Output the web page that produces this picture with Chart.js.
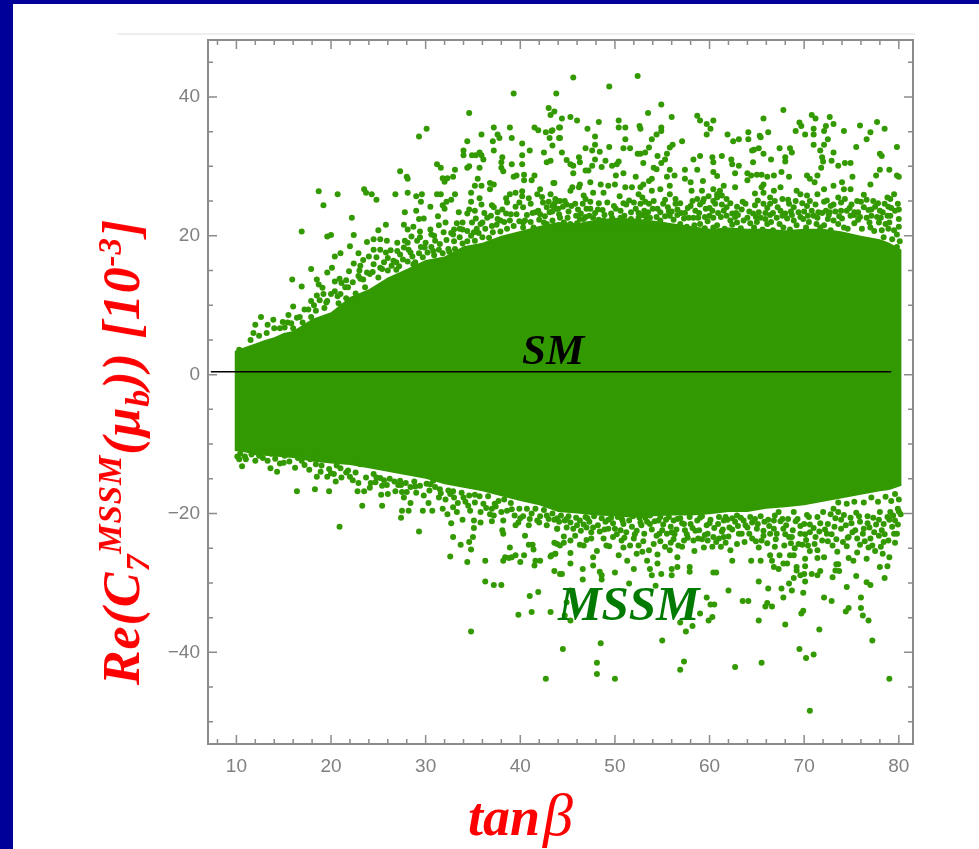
<!DOCTYPE html>
<html>
<head>
<meta charset="utf-8">
<title>Re(C7) vs tan beta</title>
<script src="https://cdn.jsdelivr.net/npm/chart.js@4/dist/chart.umd.js"></script>
<style>
  html, body { margin: 0; height: 100%; overflow: hidden; background: #000099; }
  #page { position: absolute; left: 13px; top: 4px; right: 0; bottom: 0; background: #fff; }
  #rule { position: absolute; left: 117px; top: 33px; width: 798px; height: 2px; background: #eeeeee; }
  canvas { position: absolute; left: 0; top: 0; filter: blur(0.5px); }
  .label { position: absolute; font-family: "Liberation Serif", serif; font-weight: bold; font-style: italic; white-space: nowrap; line-height: 1; }
  #xTitle { left: 468px; top: 785px; font-size: 54px; color: #ff0000; }
  #xTitle span { font-size: 60px; margin-left: 3px; font-weight: normal; }
  #yTitle { left: 122px; top: 452px; font-size: 52px; letter-spacing: 0.9px; color: #ff0000; transform: translate(-50%, -50%) rotate(-90deg); }
  #yTitle .up { position: relative; top: -18px; font-size: 33px; }
  #yTitle .down { position: relative; top: 10px; font-size: 34px; }
  #smLabel { left: 522px; top: 328px; font-size: 43px; color: #000; }
  #mssmLabel { left: 558px; top: 579px; font-size: 49px; color: #007a00; }
</style>
</head>
<body>
<div id="page"></div>
<div id="rule"></div>
<canvas id="myChart" width="979" height="849"></canvas>
<div class="label" id="xTitle">tan<span>β</span></div>
<div class="label" id="yTitle">Re(C<span class="down">7</span><span class="up">MSSM</span>(μ<span class="down">b</span>)) [10<span class="up">-3</span>]</div>
<div class="label" id="smLabel">SM</div>
<div class="label" id="mssmLabel">MSSM</div>
<script>
const xTicks = [10, 20, 30, 40, 50, 60, 70, 80];
const yTicks = [-40, -20, 0, 20, 40];
const xMinor = [8, 12, 14, 16, 18, 22, 24, 26, 28, 32, 34, 36, 38, 42, 44, 46, 48, 52, 54, 56, 58, 62, 64, 66, 68, 72, 74, 76, 78];
const yMinor = [-50, -45, -35, -30, -25, -15, -10, -5, 5, 10, 15, 25, 30, 35, 45];

// SM reference line
const smX = [7.3, 79.2];
const smY = [0.4, 0.4];

// the solid part of the cloud, read as an outline
const bandX = [9.8, 11, 12, 13, 14, 15, 16, 18, 20, 22, 24, 26, 28, 30, 32, 34, 36, 38, 40, 42, 44, 46, 48, 50, 52, 54, 56, 58, 60, 62, 64, 66, 68, 70, 72, 74, 76, 78, 79, 80.3];
const bandTop = [3.4, 4, 4.5, 5, 5.4, 6, 6.3, 8, 9, 11.2, 12.3, 14, 15.2, 16.5, 17, 18.5, 19, 20, 20.7, 21.4, 22, 21.8, 22.3, 22.6, 22.5, 22.2, 21.8, 21.4, 21, 21.2, 21, 21, 20.8, 21, 21, 20.6, 20, 19.5, 19, 18];
const bandBottom = [-11, -11.2, -11.6, -11.7, -11.8, -11.9, -12, -12.5, -12.8, -13, -13.5, -14, -14.5, -15, -15.8, -16.3, -16.8, -17.5, -18.2, -18.8, -19.8, -20, -20.3, -20.4, -20.6, -20.4, -20.3, -20.3, -20.1, -19.8, -19.8, -19.3, -19.1, -18.8, -18.3, -17.8, -17.3, -16.8, -16.6, -16];

// single points outside the solid part, [tanb, C7]
const upperLeft = [[39.3,40.5],[43.8,40.5],[34.6,37.7],[43.0,38.4],[43.6,37.9],[43.2,37.4],[29.3,34.3],[30.1,35.4],[37.2,35.6],[38.9,35.6],[41.5,35.6],[41.9,35.2],[42.7,34.9],[43.4,35.2],[44.1,35.6],[35.9,34.6],[37.6,34.6],[37.8,34.1],[39.1,34.1],[43.1,34.1],[44.1,34.1],[34.4,33.6],[37.1,33.6],[40.2,33.3],[43.4,33.0],[34.0,32.3],[34.0,31.6],[34.9,31.6],[35.3,31.6],[35.7,32.0],[35.9,31.6],[36.1,31.0],[37.2,32.3],[40.2,31.6],[41.0,32.3],[42.5,32.0],[38.1,31.3],[38.0,30.6],[38.0,29.8],[38.2,29.3],[39.1,30.3],[40.2,30.3],[42.8,30.6],[43.2,30.8],[31.2,30.3],[31.6,29.8],[33.1,29.5],[34.4,29.8],[34.6,30.0],[35.7,29.8],[27.3,29.3],[28.0,28.5],[28.1,28.2],[35.5,28.2],[39.3,28.5],[39.6,28.7],[40.4,28.8],[41.5,28.7],[40.4,28.0],[41.2,28.0],[31.8,28.3],[32.0,27.8],[32.3,28.3],[32.9,28.5],[43.6,27.6],[18.7,26.4],[20.7,26.0],[23.5,26.7],[23.7,26.2],[24.3,26.0],[24.8,25.2],[26.8,26.0],[28.1,26.2],[29.0,25.7],[29.6,26.0],[29.5,24.9],[31.2,26.0],[31.6,26.0],[33.1,26.0],[32.7,25.2],[32.2,24.9],[31.8,24.4],[32.0,23.9],[30.5,24.2],[35.2,27.2],[35.9,27.2],[36.8,27.6],[37.2,27.4],[36.8,26.7],[34.8,26.2],[35.7,25.4],[34.8,24.9],[35.9,24.5],[37.0,24.4],[38.5,25.4],[38.9,26.0],[39.5,26.2],[40.2,26.4],[40.2,25.7],[41.8,26.0],[42.1,26.7],[43.2,26.0],[19.2,24.4],[22.2,22.6],[27.8,23.4],[29.0,23.6],[33.5,23.4],[34.4,23.2],[34.6,23.8],[35.2,23.6],[16.9,20.6],[19.6,19.9],[20.0,20.1],[22.4,20.1],[25.0,20.8],[25.8,21.6],[27.7,21.6],[28.1,20.9],[28.7,21.3],[29.3,22.4],[29.8,22.5],[31.3,22.8],[31.4,21.5],[32.1,21.9],[33.3,21.8],[30.5,20.9],[30.6,20.2],[29.4,20.6],[29.4,19.8],[28.5,19.9],[23.8,19.1],[24.5,19.5],[25.2,19.5],[25.9,19.3],[27.0,19.0],[27.8,19.3],[22.0,18.5],[21.0,17.5],[20.4,17.0],[24.5,18.0],[25.2,18.0],[25.8,17.6],[23.4,16.5],[22.4,16.0],[24.8,16.9],[26.6,16.4],[27.3,17.3],[17.9,15.2],[20.1,15.4],[19.6,14.7],[25.4,15.2],[15.9,13.7],[18.5,13.7],[18.7,13.0],[16.9,12.7],[20.9,13.8],[20.4,13.4],[21.1,13.2],[18.5,11.4],[19.2,11.6],[20.0,11.6],[17.9,10.6],[19.6,10.6],[16.0,9.8],[15.5,8.6],[12.6,8.3],[16.7,8.3],[17.9,8.3],[14.0,6.7],[15.1,6.8],[16.0,6.7],[32.9,20.2],[33.6,21.0],[34.4,20.7],[35.1,20.5],[35.8,21.7],[36.5,22.6],[37.2,24.1],[38.1,23.8],[38.9,22.2],[39.6,23.1],[40.3,24.1],[41.1,24.6],[41.9,23.6],[42.8,24.1],[43.9,25.0],[40.3,21.9],[41.4,21.2],[42.8,21.7],[44.0,20.7],[30.8,17.8],[31.5,18.8],[32.4,18.1],[28.7,15.9],[27.0,17.8],[27.7,18.3],[28.4,17.6],[24.1,14.5],[24.5,15.9],[23.1,13.8],[21.8,12.6],[21.0,11.6],[10.3,3.6],[11.5,5],[12.4,5.6],[13.2,6],[14.6,6.7],[15.8,7.4],[17,7.5],[18.4,9.2],[19.3,9.6],[20.8,10.3],[21.6,11],[22.6,11.7],[23.6,12.6]];

const upperRight = [[45.6,42.8],[52.4,43.0],[49.4,41.5],[54.9,38.9],[53.5,37.7],[45.3,37.1],[44.4,36.9],[46.0,36.6],[48.3,36.4],[50.4,36.6],[56.0,37.1],[58.7,37.3],[59.0,36.6],[60.4,36.6],[59.7,36.1],[60.1,35.4],[67.8,38.1],[65.7,36.9],[70.8,37.4],[71.2,36.9],[72.7,37.1],[73.1,36.1],[69.5,36.3],[69.7,35.8],[77.7,36.4],[75.9,35.9],[78.5,35.4],[77.0,34.9],[74.2,35.1],[69.1,35.1],[70.1,34.6],[71.0,35.4],[71.0,34.6],[72.3,35.8],[72.1,35.1],[72.5,33.9],[66.2,34.9],[64.1,34.9],[65.3,34.4],[65.4,34.2],[64.1,33.9],[61.9,34.6],[62.5,33.6],[63.1,33.9],[59.7,34.6],[57.1,33.6],[54.9,35.6],[54.9,35.1],[54.4,34.6],[53.9,33.9],[52.6,35.8],[52.7,35.4],[51.1,35.6],[50.4,35.6],[47.1,35.4],[44.2,35.6],[43.3,35.1],[44.2,34.1],[47.9,34.3],[51.1,33.9],[76.6,33.9],[75.5,32.8],[79.8,32.8],[71.0,33.1],[72.1,33.1],[67.4,32.6],[68.5,32.6],[68.7,32.0],[64.7,32.4],[65.2,32.6],[64.5,32.3],[56.1,33.1],[55.8,32.7],[53.6,32.7],[53.2,32.0],[52.4,31.8],[52.7,31.8],[50.9,32.6],[51.6,32.6],[49.4,32.8],[46.9,32.6],[47.6,32.3],[47.9,33.1],[48.4,32.1],[44.4,32.0],[73.1,32.0],[71.7,32.3],[65.7,31.8],[78.0,31.8],[78.2,31.5],[71.9,31.3],[72.0,30.7],[72.9,30.8],[68.0,31.3],[68.0,30.7],[66.5,31.0],[64.6,30.6],[61.3,31.5],[60.3,31.3],[60.4,30.6],[59.0,31.5],[58.3,31.0],[55.5,31.8],[54.5,31.5],[55.3,31.0],[62.3,31.0],[62.4,30.3],[63.1,30.1],[54.9,30.5],[53.0,30.5],[50.4,30.7],[50.2,30.3],[49.7,30.1],[49.0,30.8],[48.6,29.9],[47.9,31.0],[47.6,30.1],[46.9,29.4],[47.2,29.4],[46.2,31.3],[46.3,30.6],[44.9,30.9],[45.3,30.3],[45.6,30.1],[45.6,29.0],[74.3,30.5],[74.9,30.5],[73.6,30.1],[71.8,29.8],[78.0,29.5],[79.0,29.5],[79.8,28.7],[80.0,28.5],[77.6,28.7],[75.1,28.5],[70.3,28.7],[70.6,28.2],[71.4,28.7],[71.1,27.7],[68.4,28.5],[67.6,29.2],[66.8,28.7],[66.1,28.5],[65.5,28.8],[65.0,28.8],[64.0,29.0],[64.4,28.7],[62.7,29.0],[64.0,28.0],[60.4,29.2],[60.8,28.6],[58.7,29.5],[57.4,29.5],[55.8,29.5],[56.3,28.7],[55.5,28.5],[54.4,29.6],[54.1,29.8],[53.9,28.2],[52.2,28.5],[53.6,27.9],[50.9,29.0],[50.1,28.7],[47.4,27.7],[43.5,27.6],[48.5,27.4],[49.3,27.2],[50.0,27.4],[46.3,27.4],[46.2,27.0],[45.5,27.0],[45.3,26.5],[57.4,28.2],[58.0,27.7],[59.3,27.9],[55.8,27.2],[54.8,26.7],[53.0,27.4],[52.7,27.0],[51.8,27.0],[51.1,27.0],[65.7,27.4],[65.5,27.0],[64.8,26.1],[65.7,26.2],[62.7,27.0],[61.5,27.2],[61.1,26.5],[60.4,26.7],[60.8,26.0],[61.3,25.8],[59.2,26.5],[58.1,26.5],[58.7,25.3],[59.4,25.3],[60.4,25.0],[60.8,25.5],[55.8,26.0],[56.4,25.3],[53.9,26.5],[52.5,26.0],[52.9,25.5],[50.5,25.7],[48.8,26.2],[47.7,26.2],[46.7,25.8],[46.9,25.3],[45.8,24.6],[44.7,25.0],[44.2,25.0],[43.7,25.3],[48.3,24.7],[47.4,23.9],[49.9,24.3],[52.7,24.6],[53.6,24.6],[54.1,25.0],[55.6,24.1],[56.6,23.8],[58.0,24.3],[61.8,25.3],[61.8,24.1],[63.8,24.6],[63.4,23.8],[65.7,24.6],[66.4,25.5],[66.8,26.5],[67.5,27.0],[67.7,25.3],[68.4,24.6],[69.2,26.5],[69.6,26.0],[70.3,25.8],[70.3,24.3],[71.4,26.0],[72.1,26.7],[73.1,27.2],[74.0,27.7],[74.2,26.7],[74.9,26.7],[73.6,25.5],[72.1,24.9],[72.3,23.6],[76.3,25.9],[77.3,25.0],[78.8,25.5],[79.1,25.3],[79.5,26.0],[80.0,23.8],[80.0,22.4],[79.1,22.9],[79.8,20.2],[78.9,21.0],[78.1,22.6],[77.0,27.4],[58.3,22.6],[59.0,21.7],[60.4,22.6],[60.4,21.2],[62.2,22.2],[62.9,21.9],[64.0,22.6],[64.7,21.2],[65.4,22.6],[66.1,21.7],[67.1,22.6],[67.8,21.2],[68.9,22.2],[69.9,22.4],[71.0,22.9],[71.7,21.2],[73.1,22.2],[74.2,21.2],[74.9,22.9],[76.3,24.1],[76.6,22.6],[77.0,21.2],[77.9,21.9],[78.4,19.8],[47.7,22.6],[48.8,22.2],[49.9,21.4],[51.3,21.9],[52.5,22.6],[53.7,22.6],[54.8,22.2],[55.8,22.9],[56.9,21.7],[58.0,20.7],[44.2,22.6],[45.3,21.7],[46.3,22.4],[47.0,21.2]];

const lowerLeft = [[10.6,-13.2],[13.6,-13.5],[14.3,-14.0],[16.2,-13.4],[17.7,-13.7],[18.5,-14.7],[19.6,-14.7],[20.3,-14.3],[20.5,-15.4],[21.1,-14.8],[22.3,-15.2],[16.4,-16.8],[18.3,-16.5],[19.8,-16.8],[22.8,-16.8],[23.5,-16.8],[24.1,-16.3],[25.4,-16.0],[26.2,-15.0],[25.3,-17.3],[26.0,-17.2],[26.8,-16.8],[27.5,-16.9],[27.7,-17.7],[28.4,-18.5],[23.3,-18.9],[25.4,-18.9],[27.5,-19.6],[28.2,-19.6],[27.4,-20.6],[20.9,-21.9],[29.7,-19.6],[30.7,-19.6],[30.3,-18.5],[31.8,-19.3],[32.3,-20.1],[31.4,-17.7],[32.9,-19.1],[33.3,-19.8],[33.9,-20.9],[32.7,-21.4],[29.3,-22.6],[32.9,-23.4],[33.7,-24.5],[34.6,-24.1],[35.0,-23.4],[34.8,-25.2],[32.6,-26.2],[34.4,-27.0],[36.3,-26.8],[36.3,-29.8],[37.2,-30.3],[38.0,-30.3],[34.8,-37.0],[39.8,-34.6],[41.2,-34.2],[43.2,-34.2],[42.7,-43.8],[41.0,-31.9],[41.9,-31.3],[43.6,-28.3],[44.2,-28.7],[38.9,-24.9],[40.4,-26.0],[40.0,-27.0],[41.5,-27.5],[41.6,-26.8],[42.1,-26.8],[38.2,-26.8],[38.8,-26.4],[38.4,-26.3],[39.5,-26.0],[39.1,-26.3],[43.2,-26.2],[43.7,-25.8],[41.4,-25.2],[40.9,-24.5],[41.3,-24.5],[43.6,-24.2],[44.2,-24.6],[38.1,-22.4],[38.2,-22.9],[40.5,-23.2],[39.5,-21.7],[39.8,-21.3],[40.9,-21.7],[41.8,-21.0],[42.8,-21.7],[43.9,-22.2],[35.1,-21.0],[35.1,-22.1],[35.8,-21.3],[37.0,-21.1],[36.8,-20.1],[37.2,-20.3],[36.1,-18.6],[37.3,-18.6],[34.5,-18.9],[34.7,-19.6],[35.8,-19.8],[38.2,-21.0],[29.8,-17.4],[30.1,-15.7],[28.4,-16.2],[27.3,-15.3],[29.4,-16.0],[30.8,-15.3],[32.6,-17.2],[34.0,-17.7],[10.6,-10.5],[10.4,-11.4],[11.6,-11.5],[13.7,-11.4],[15.1,-11.7],[16.0,-11.4],[16.9,-12.4],[18.3,-11.7],[19.0,-13.1],[20.6,-13.1],[21.8,-13.8],[23.1,-12.9],[24.8,-14.8],[24.5,-14.3]];

const lowerRight = [[79.0,-43.8],[70.6,-48.4],[50.0,-43.8],[48.1,-43.1],[48.1,-41.5],[44.5,-39.5],[48.5,-38.7],[55.0,-38.3],[56.9,-42.5],[57.3,-41.3],[62.7,-42.1],[65.5,-41.5],[69.5,-39.5],[70.2,-40.8],[71.0,-40.3],[71.6,-36.7],[68.0,-36.0],[65.2,-35.4],[77.2,-38.3],[76.8,-35.4],[76.2,-34.7],[76.0,-33.6],[76.0,-32.1],[74.4,-34.1],[74.7,-33.6],[74.5,-30.6],[72.9,-32.6],[72.1,-32.1],[69.9,-31.4],[68.7,-31.1],[67.8,-32.1],[67.6,-30.8],[68.4,-30.1],[68.9,-29.3],[66.2,-30.8],[65.9,-33.4],[66.1,-32.9],[66.6,-33.4],[69.7,-34.4],[69.9,-34.0],[63.5,-32.6],[64.1,-32.6],[62.0,-31.1],[65.2,-29.8],[59.7,-32.1],[60.1,-33.1],[60.5,-33.1],[59.0,-34.4],[60.3,-34.9],[59.9,-35.4],[58.2,-36.2],[57.5,-37.0],[56.9,-35.7],[45.3,-35.4],[44.7,-34.7],[45.3,-31.1],[44.9,-32.8],[44.4,-28.7],[45.3,-27.2],[46.6,-28.0],[46.6,-29.5],[47.7,-26.3],[47.7,-27.5],[48.4,-28.4],[48.6,-28.9],[48.6,-29.5],[50.0,-28.5],[51.5,-30.1],[52.0,-28.0],[53.7,-28.0],[53.9,-28.9],[54.9,-28.7],[54.3,-30.4],[54.5,-27.2],[56.0,-28.9],[56.0,-28.0],[56.6,-27.7],[57.9,-27.7],[57.9,-28.4],[58.4,-25.4],[60.4,-28.5],[60.7,-28.5],[64.4,-26.8],[65.4,-26.8],[62.4,-26.8],[62.2,-25.3],[66.4,-26.0],[66.6,-26.8],[66.8,-27.7],[67.3,-28.0],[67.8,-27.2],[68.2,-27.2],[67.4,-26.0],[68.5,-26.0],[68.9,-26.0],[69.2,-27.7],[69.2,-28.2],[70.1,-26.5],[70.1,-27.6],[70.0,-28.7],[69.6,-28.9],[70.1,-29.8],[70.8,-28.7],[71.4,-28.9],[71.7,-28.3],[70.6,-25.4],[71.4,-25.3],[71.4,-26.4],[72.1,-26.3],[73.4,-27.3],[73.6,-27.3],[73.3,-28.2],[73.0,-29.2],[73.7,-28.3],[75.5,-29.0],[76.6,-29.9],[77.0,-30.3],[78.5,-29.3],[78.0,-27.7],[78.8,-27.6],[79.0,-26.3],[78.3,-25.8],[78.1,-24.8],[76.6,-26.5],[75.6,-25.6],[74.7,-26.4],[75.2,-26.8],[74.5,-24.7],[73.0,-24.6],[78.4,-24.1],[45.3,-25.7],[43.3,-26.0],[43.7,-25.8],[43.9,-24.4],[45.3,-23.9],[46.7,-24.6],[49.4,-24.7],[50.4,-26.0],[51.3,-26.8],[50.9,-24.9],[52.3,-25.8],[52.5,-24.6],[53.4,-26.8],[54.1,-24.4],[55.5,-22.9],[55.3,-24.8],[55.8,-25.3],[56.6,-26.3],[57.3,-23.9],[57.1,-24.8],[58.8,-23.6],[60.3,-24.8],[60.7,-24.1],[61.5,-23.4],[61.2,-24.8],[63.1,-22.9],[63.4,-22.9],[62.9,-24.4],[65.2,-24.9],[65.7,-23.2],[65.5,-23.9],[66.8,-22.2],[67.8,-22.2],[68.4,-23.4],[69.4,-24.4],[69.8,-24.5],[70.6,-22.7],[72.4,-22.9],[75.1,-22.7],[75.6,-23.6],[77.0,-23.6],[77.9,-23.2],[79.5,-22.9],[79.8,-22.9],[80.2,-20.1],[79.1,-19.8],[79.6,-21.0],[78.4,-21.5],[76.3,-22.2],[73.1,-19.3],[73.6,-19.8],[71.4,-20.5],[70.0,-21.5],[68.9,-19.8],[67.3,-19.8],[65.7,-22.5],[64.3,-20.5],[62.9,-20.3],[61.5,-21.0],[59.7,-21.7],[58.7,-21.0],[57.3,-21.5],[56.2,-21.0],[54.8,-20.5],[53.7,-20.3],[52.7,-21.3],[50.9,-21.5],[50.6,-22.4],[49.3,-22.2],[47.7,-22.0],[47.0,-22.0],[46.3,-21.0],[44.9,-22.0],[43.9,-22.2]];

// the crowded fringe just outside the solid part
const fringeTopA = [[44.5,24.2],[45.1,23.5],[46.1,23.8],[46.6,24.6],[47.9,23.3],[48.7,23.7],[49.2,24.8],[50.6,23.6],[51.2,24.5],[51.7,23.4],[52.2,23.9],[53.1,23.6],[53.2,24.9],[54.5,23.9],[55.1,24.6],[56,23.5],[56.9,24.7],[57.4,23.3],[58.5,23.6],[59,24.5],[59.6,23.9],[60,24],[60.9,23.3],[61.3,24.5],[62.4,23.2],[62.9,24.2],[64.2,23.5],[64.8,24.4],[65.2,23.4],[66.1,24],[66.7,23.3],[67.2,24.1],[68,23.2],[68.9,24.1],[69.4,23.4],[69.8,24.7],[70.8,23.6],[71.2,24.5],[71.9,23.3],[72.8,24.3],[73.3,23.5],[73.9,24.8],[74.5,23.6],[75,24.5],[75.7,23.4],[76,24.9],[76.8,23.7],[77.5,24.2],[78,23.6],[78.5,24.6],[79.2,24]];
const fringeTopB = [[44,21.3],[44.6,21.9],[45,22.6],[45.7,21],[46,21.8],[46.7,22.4],[47.3,21.7],[47.8,21.2],[48.3,22.3],[49,21],[49.4,21.8],[50.3,22],[50.8,21.3],[51.7,22.4],[52,21],[52.9,21.7],[53.3,22.2],[54,21.4],[54.4,22.7],[55.2,21.5],[55.5,21.2],[56.2,22.3],[56.5,21],[57.3,22.5],[57.6,21.3],[58.4,21.5],[58.8,22.6],[59.5,21.1],[59.8,22.1],[60.8,21.5],[61.2,22.7],[61.6,21],[62.4,21.6],[62.7,22.7],[63.3,21.1],[63.6,22.2],[64.3,21.8],[65,22],[65.6,20.9],[65.9,22.4],[66.5,22],[66.7,20.8],[67.4,21.7],[68.2,22.5],[68.5,20.9],[69.2,21.5],[69.6,22.7],[70.2,21.2],[70.5,22],[71.3,21.7],[71.4,22.6],[72.1,21.5],[72.5,22.4],[72.8,20.8],[73.6,21.7],[74,22.5],[74.6,21],[75.3,21.8],[75.7,22.3],[76.1,21],[76.9,21.9],[77.4,20.7],[77.7,22.7],[78.2,20.8],[78.6,21.7],[79,21.9],[79.5,20.8],[80,21.3],[79.3,19.5],[80.1,19.2],[79.8,18.4]];
const fringeTopC = [[43.4,24.3],[44,23.9],[44.9,24.5],[45.4,24.3],[46.4,23.2],[47,23.9],[47.4,24.9],[48.2,23.8],[49.6,23.2],[50.1,23.9],[50.9,24.7],[51.5,25.1],[52,24.8],[52.5,23.3],[53.5,23.4],[54,23.9],[54.8,23.4],[55.3,25.2],[55.7,23.5],[56.4,24.6],[57,23.3],[57.7,24],[58.2,25],[58.9,23.3],[59.3,24.9],[59.9,25.7],[60.3,23.6],[60.6,24.6],[61.5,23.6],[62.2,24.7],[62.8,23.3],[63.5,24.9],[64.6,23.2],[65.1,25.1],[65.9,23.3],[66.4,24.6],[66.9,25],[67.5,23.6],[68.3,25.2],[68.6,23.5],[69.1,25],[70,23.5],[70.6,25],[71.5,23.4],[72.4,25.1],[72.7,23.4],[73.1,24.5],[73.9,23.6],[74.3,25.3],[74.8,24],[75.3,23.4],[75.6,25],[76.6,25.2],[77.1,23.8],[77.8,24.7],[78.3,23.4],[78.9,24.2],[79.6,23.6],[79.9,24.6],[45.9,22.9],[46.9,22.7],[47.3,22.9],[48.9,23],[49.7,22.6],[50.6,22.6],[51,22.9],[52.9,23],[53.2,22.9],[55.3,22.8],[56.6,23],[57.8,22.6],[59.5,22.7],[60,22.9],[61.8,22.9],[63,23],[64.9,22.7],[66.4,23],[67.7,22.9],[68.7,23],[70.4,22.9],[72.6,23],[73.7,22.8],[75.3,23],[75.9,22.7],[77.1,22.9],[78.8,22.9]];
const fringeUpperLeft = [[22.3,13.3],[22.9,14.2],[23.4,13.7],[23.8,14.7],[24.4,14.8],[25,14],[25.2,15.4],[25.6,16.2],[26,15],[26.4,15.7],[26.9,16.2],[27.2,15.6],[27.6,16.6],[28.1,16.3],[28.6,17],[28.9,16.2],[29.3,17.5],[29.7,16.9],[30.2,17.6],[30.6,18.4],[30.9,17.2],[31.4,18],[31.8,17.5],[32.2,19.4],[32.5,17.7],[33,19.2],[33.1,18.1],[33.6,19.8],[33.9,18.9],[34.4,19.2],[34.8,20],[35.2,19.3],[35.6,20.4],[36,19.8],[36.3,21],[36.7,19.7],[37.1,20.5],[37.5,21.6],[37.9,20.6],[38.3,22],[38.6,21],[39,23.1],[39.3,21.4],[39.9,22.1],[40.3,21.2],[40.7,23],[41.1,22],[41.6,23.4],[42,22.3],[42.4,24.8],[42.6,22.8],[43.1,23.4],[43.4,22.2],[43.8,23.9],[44.1,23.1],[33.9,20.9],[36.9,22.9],[37.6,23.4],[38.6,24.8],[39.9,24.8],[40.9,25.4],[42.3,25.6],[43.6,24.6],[36.2,23.3],[34.9,21.9],[31,19.3],[29.5,18.4],[26.3,17.9],[23.1,15.7],[21.6,13.6],[21.9,14.9],[20.4,12],[19.1,12.5],[18.2,10],[17.2,9.4],[14.9,7.6],[13.9,7.9],[11.8,6],[22.9,17.5],[28.1,19],[30,19],[30.9,20],[31.9,20.5],[32.7,20.4],[33,20.9],[33.9,21.9],[35.4,21],[36,21.9],[37,21.4],[37.9,22.2],[38.5,23.2],[39.5,24.2],[40.5,22.2],[41.3,23.3],[42.1,23.1],[42.5,21.9],[43,24.9],[43.4,23.5],[37.6,22.4],[35.3,22.5],[29.1,19.3],[26.9,15.1],[28.2,18],[29.9,18.3],[24,17],[26,16.8],[23,15],[21.5,12.6],[20.7,11.3],[19.5,10.4],[18.8,10.7],[17.6,9.4],[16.4,8.2],[15.4,7.5],[13.3,7.2],[12,7.2]];
const fringeLowA = [[44.3,-20.3],[44.7,-21],[45.1,-20.4],[45.6,-22.2],[45.9,-20.6],[46.4,-22.5],[46.9,-20.5],[47.3,-21.2],[47.8,-20.4],[48.2,-21.7],[48.6,-20.7],[49,-21.2],[49.6,-20.6],[50,-22.2],[50.3,-20.5],[50.8,-21],[51.2,-22.7],[51.5,-21],[51.9,-20.4],[52.3,-22.5],[52.6,-20.6],[53.1,-22.9],[53.4,-21.2],[53.9,-22.3],[54.2,-21.1],[54.7,-22.9],[55.1,-21.6],[55.7,-20.5],[56,-22.7],[56.5,-22.3],[56.9,-20.7],[57.4,-22.4],[57.9,-20.5],[58.2,-22.1],[58.9,-22.4],[59.2,-20.4],[59.8,-22.9],[60.1,-20.9],[60.5,-22.1],[61,-20.5],[61.3,-22.6],[61.9,-20.9],[62.4,-22.3],[62.7,-21.2],[63.3,-20.6],[63.8,-21.7],[64.2,-22.9],[64.8,-20.8],[65.1,-21.5],[65.4,-20.4],[66.2,-20.9],[66.4,-22.9],[66.9,-20.3],[67.5,-21.1],[68,-23],[68.3,-20.8],[68.8,-22.4],[69.3,-20.8],[69.6,-22.9],[70.3,-20.2],[70.6,-21.6],[71.2,-23.4],[71.7,-21.4],[72,-19.8],[72.5,-21.5],[72.9,-23],[73.3,-20.7],[73.9,-22.2],[74.2,-20.2],[74.7,-23.4],[75,-21.4],[75.5,-19.9],[75.9,-21.2],[76.7,-20.4],[76.9,-22],[77.3,-20.6],[77.6,-21.6],[78,-19.8],[78.2,-22.4],[78.8,-20.5],[79.3,-21.9],[79.9,-19.3],[80,-18],[79.6,-17.2],[79.2,-18.2],[78.6,-17.6],[77.8,-18.3],[77.1,-17.7],[76.3,-18.4],[75.3,-18.3],[74.5,-18.6],[73.6,-18.4]];
const fringeLowB = [[44.6,-23.3],[45.8,-23.2],[46.3,-24.5],[47.5,-23.6],[48.1,-25.4],[48.8,-23.6],[49.8,-23.4],[51.6,-24.6],[52,-23.6],[53,-24],[53.6,-25.3],[54.8,-24],[56.2,-23.7],[56.7,-24.6],[57.7,-23.5],[59.2,-23.7],[59.8,-23.9],[61.7,-24.2],[62,-23.3],[64.5,-23.6],[66.1,-24.3],[67,-23.7],[67.9,-24.6],[69,-25],[70.2,-23.8],[71.1,-24.4],[71.9,-23.9],[73.4,-23.7],[74.1,-24.1],[75.9,-24.5],[76.8,-24.9],[77.5,-25.4]];
const fringeLowC = [[44.1,-21.2],[44.9,-20.8],[45.3,-21.3],[46,-21.7],[46.7,-21.6],[47.1,-20.7],[47.5,-22.7],[48.4,-22.6],[48.9,-22.3],[49.3,-20.9],[49.8,-21.4],[50.2,-23],[50.7,-20.7],[51,-23.5],[51.8,-21.9],[52.1,-23],[52.8,-21.7],[53.2,-20.6],[53.7,-21.5],[54.4,-23.2],[54.6,-21],[55,-22.4],[55.4,-20.9],[55.9,-21.9],[56.3,-23],[56.6,-20.8],[57.1,-21.4],[57.6,-23],[58,-21.5],[58.5,-22.5],[59,-20.6],[59.5,-23.1],[60,-21.4],[60.4,-23.4],[60.9,-21.5],[61.4,-22.3],[61.7,-20.5],[62.1,-22],[62.4,-20.7],[63,-21.8],[63.6,-21],[64,-22],[64.5,-21.3],[65,-22.2],[65.8,-21.2],[66.3,-21.8],[66.8,-21],[67.1,-22.9],[67.7,-20.8],[68.1,-21.7],[68.7,-23.4],[69.1,-21.1],[69.6,-21.8],[70.1,-23],[70.5,-20.5],[71,-22.1],[71.6,-22.6],[72.2,-22.3],[72.8,-20.1],[73.2,-21.9],[73.9,-20.9],[74.4,-21.7],[74.9,-20.6],[75.4,-22.4],[75.8,-20.4],[76.2,-22.9],[76.7,-21.4],[77.4,-22.7],[77.9,-20.9],[78.5,-23],[79,-20.9],[79.4,-20.3],[79.9,-21.6],[80,-19.7],[44.6,-24.2],[47,-23.8],[49.1,-24.6],[50.7,-23.9],[52.9,-25.5],[54.5,-25.9],[55.9,-24.2],[58.3,-23.9],[59.4,-24.9],[61,-23.6],[63.7,-24.1],[64.9,-24],[66.9,-24.8],[68.6,-24.3],[70.4,-24.6],[72.5,-24],[73.5,-25.5],[74.6,-23.5],[76.4,-24],[77.2,-24.6],[78.9,-23.9],[79.6,-24.2]];
const fringeLowerLeft = [[11,-12.2],[12,-12.4],[12.8,-12],[13.3,-12.4],[14.6,-12.8],[15.6,-12.5],[17.2,-13],[17.8,-12.2],[18.9,-14],[19.8,-13.6],[21,-13.5],[22,-14.7],[22.6,-14.1],[23.7,-14.8],[24.2,-15.6],[25.2,-14.9],[25.9,-15.9],[26.7,-15.4],[27.1,-15.9],[27.9,-15.6],[28.8,-15.4],[29,-17],[30.4,-16.7],[31,-16.2],[31.5,-16.5],[32.1,-18],[32.9,-16.8],[33.4,-18.5],[33.8,-17],[34.6,-17.4],[35.2,-18.4],[35.7,-17.5],[36.6,-17.5],[37,-19.3],[37.7,-18.2],[38.3,-18],[38.6,-19.6],[39,-18.5],[39.4,-20.3],[39.9,-19.3],[40.3,-20.4],[40.7,-19.3],[41.2,-20],[41.6,-19.3],[42.1,-20.4],[42.5,-19.5],[43,-20.8],[43.4,-20],[43.9,-20.7],[10.3,-12.2],[10.1,-11.8],[10.9,-11.8],[12.4,-11.7],[14.1,-12.1],[15,-12.7],[16.5,-12],[18.4,-12.9],[20,-14.2],[21.6,-14.1],[22.9,-15.6],[24.7,-15.5],[25.6,-15.2],[27.4,-15.9],[28,-16.9],[28.9,-16.1],[30.5,-15.8],[31.6,-17.1],[32.4,-16.7],[33,-17.7],[34.2,-18.3],[35.2,-17.3],[36.4,-19.2],[37.4,-19],[38,-19.8],[39.1,-19.4],[40,-20.7],[41,-20.8],[42,-21.3],[42.8,-20.3],[43.6,-20.9]];

const green = '#339900';
const frameColor = '#8c8c8c';

// Mathematica style frame: ticks point inwards on all four sides
const frameTicks = {
  id: 'frameTicks',
  afterDatasetsDraw(chart) {
    const { ctx, chartArea: a, scales: { x, y } } = chart;
    ctx.save();
    ctx.strokeStyle = frameColor;
    ctx.lineWidth = 2;
    ctx.strokeRect(a.left, a.top, a.right - a.left, a.bottom - a.top);
    ctx.lineWidth = 1.5;
    function xTick(v, len) {
      const p = x.getPixelForValue(v);
      ctx.beginPath();
      ctx.moveTo(p, a.bottom); ctx.lineTo(p, a.bottom - len);
      ctx.moveTo(p, a.top); ctx.lineTo(p, a.top + len);
      ctx.stroke();
    }
    function yTick(v, len) {
      const p = y.getPixelForValue(v);
      ctx.beginPath();
      ctx.moveTo(a.left, p); ctx.lineTo(a.left + len, p);
      ctx.moveTo(a.right, p); ctx.lineTo(a.right - len, p);
      ctx.stroke();
    }
    xTicks.forEach(v => xTick(v, 9));
    xMinor.forEach(v => xTick(v, 5));
    yTicks.forEach(v => yTick(v, 9));
    yMinor.forEach(v => yTick(v, 5));
    ctx.restore();
  }
};

function pairs(list) {
  return list.map(p => ({ x: p[0], y: p[1] }));
}
function cloud(list) {
  return { data: pairs(list), backgroundColor: green, borderWidth: 0, pointRadius: 3, order: 3 };
}

const ctx = document.getElementById('myChart').getContext('2d');
new Chart(ctx, {
  type: 'scatter',
  data: {
    datasets: [
      {
        data: bandX.map((v, i) => ({ x: v, y: bandTop[i] })),
        showLine: true, pointRadius: 0, borderWidth: 0, borderColor: green,
        backgroundColor: green, fill: '+1', order: 4
      },
      {
        data: bandX.map((v, i) => ({ x: v, y: bandBottom[i] })),
        showLine: true, pointRadius: 0, borderWidth: 0, borderColor: green, fill: false, order: 4
      },
      cloud(upperLeft),
      cloud(upperRight),
      cloud(lowerLeft),
      cloud(lowerRight),
      cloud(fringeTopA),
      cloud(fringeTopB),
      cloud(fringeTopC),
      cloud(fringeUpperLeft),
      cloud(fringeLowA),
      cloud(fringeLowB),
      cloud(fringeLowC),
      cloud(fringeLowerLeft),
      {
        data: smX.map((v, i) => ({ x: v, y: smY[i] })),
        showLine: true, pointRadius: 0, borderWidth: 1.5, borderColor: '#000', order: 1
      }
    ]
  },
  options: {
    responsive: false,
    animation: false,
    layout: { padding: { top: 40, right: 66, left: 0, bottom: 0 } },
    plugins: { legend: { display: false }, tooltip: { enabled: false } },
    scales: {
      x: {
        type: 'linear', min: 7, max: 81.5,
        afterBuildTicks: s => { s.ticks = xTicks.map(v => ({ value: v })); },
        afterFit: s => { s.height = 105; },
        grid: { display: false },
        border: { display: false },
        ticks: { color: '#808080', padding: 3, maxRotation: 0, font: { family: 'Liberation Sans', size: 19 } }
      },
      y: {
        type: 'linear', min: -53.2, max: 48.2,
        afterBuildTicks: s => { s.ticks = yTicks.map(v => ({ value: v })); },
        afterFit: s => { s.width = 208; },
        grid: { display: false },
        border: { display: false },
        ticks: {
          color: '#808080', padding: 0, font: { family: 'Liberation Sans', size: 19 },
          callback: v => String(v).replace('-', '\u2212')
        }
      }
    }
  },
  plugins: [frameTicks]
});
</script>
</body>
</html>
